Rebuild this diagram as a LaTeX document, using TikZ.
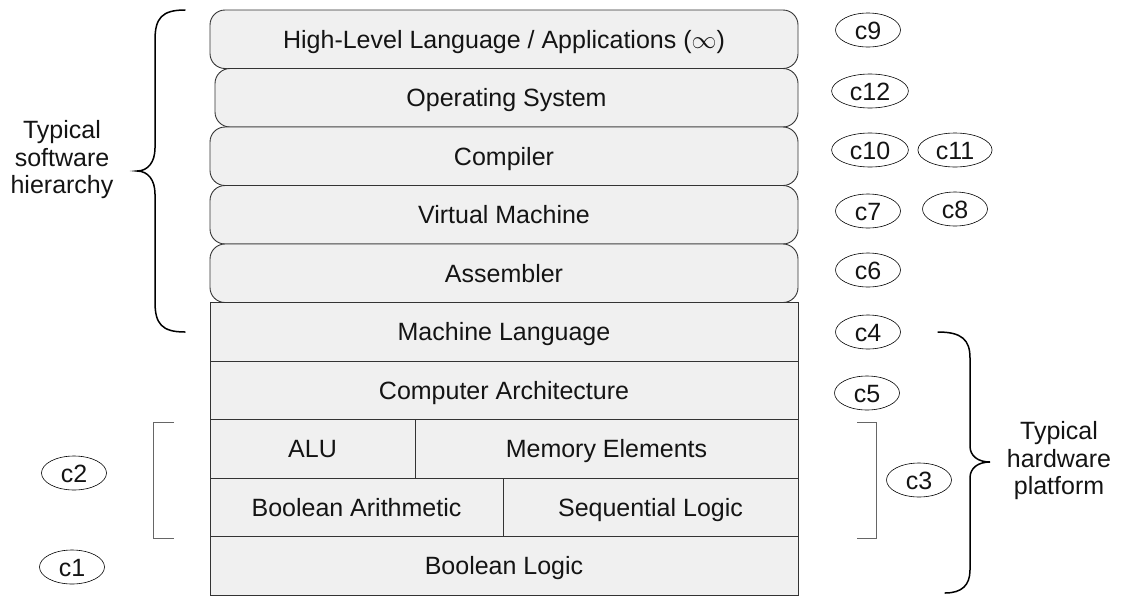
\documentclass[tikz,border=0pt]{standalone}
\usepackage{fontspec}
\setmainfont{Liberation Sans}
\usepackage{tikz}
\usetikzlibrary{shapes.geometric}

\begin{document}
\begin{tikzpicture}[x=1pt, y=-1pt,
		every node/.style={font=\fontsize{25}{27.5}\selectfont, text=black!92},
		layer/.style={draw=black!80, fill=black!6, line width=.9pt, inner sep=0pt, outer sep=0pt,
			minimum height=58.5pt, text height=18pt, text depth=0pt},
		soft/.style={layer, rounded corners=15pt},
		chap/.style={draw=black, ellipse, line width=.6pt, inner xsep=7pt, inner ysep=0pt,
			minimum width=65pt, minimum height=34pt, text height=18pt, text depth=0pt},
		curly/.style={line width=1.5pt, line cap=round},
		bracket/.style={draw=black!60, line width=1pt}]
	\useasboundingbox (0,0) rectangle (1122,595);
	\node[soft, minimum width=588pt] (hll) at (504,39.25) {High-Level Language / Applications ($\infty$)};
	\node[soft, minimum width=583pt] (os) at (506.5,97.75) {Operating System};
	\node[soft, minimum width=588pt] (comp) at (504,156.25) {Compiler};
	\node[soft, minimum width=588pt] (vm) at (504,214.75) {Virtual Machine};
	\node[soft, minimum width=588pt] (asm) at (504,273.25) {Assembler};
	\node[layer, minimum width=588pt] (ml) at (504,331.75) {Machine Language};
	\node[layer, minimum width=588pt] (arch) at (504,390.25) {Computer Architecture};
	\node[layer, minimum width=205pt] (alu) at (312.5,448.75) {ALU};
	\node[layer, minimum width=383pt] (mem) at (606.5,448.75) {Memory Elements};
	\node[layer, minimum width=293pt] (arith) at (356.5,507.25) {Boolean Arithmetic};
	\node[layer, minimum width=295pt] (seq) at (650.5,507.25) {Sequential Logic};
	\node[layer, minimum width=588pt] (logic) at (504,565.75) {Boolean Logic};

	\node[chap] (c9) at (868,30) {c9};
	\node[chap] (c12) at (870,91) {c12};
	\node[chap] (c10) at (870,150) {c10};
	\node[chap] (c11) at (955,150) {c11};
	\node[chap] (c7) at (868,211) {c7};
	\node[chap] (c8) at (955,209) {c8};
	\node[chap] (c6) at (868,270) {c6};
	\node[chap] (c4) at (868,332) {c4};
	\node[chap] (c5) at (867,393) {c5};
	\node[chap] (c3) at (919,480) {c3};
	\node[chap] (c2) at (74,473) {c2};
	\node[chap] (c1) at (72,567) {c1};

	\draw[curly] (185,10) .. controls (162,10) and (155,18) .. (155,40) -- (155,148)
		.. controls (155,162) and (148,171) .. (137,171) .. controls (148,171) and (155,180) .. (155,194)
		-- (155,302) .. controls (155,324) and (162,332) .. (185,332);
	\node[align=center] (sw) at (62,160) {Typical\\software\\hierarchy};

	\draw[curly] (938,332) .. controls (962,332) and (970,340) .. (970,358) -- (970,446)
		.. controls (970,456) and (978,462) .. (990,462) .. controls (978,462) and (970,468) .. (970,478)
		-- (970,570) .. controls (970,585) and (962,593) .. (945,593);
	\node[align=center] (hw) at (1059,461) {Typical\\hardware\\platform};

	\draw[bracket] (174,422) -- (153,422) -- (153,538) -- (174,538);
	\draw[bracket] (857,422) -- (876,422) -- (876,538) -- (857,538);
\end{tikzpicture}
\end{document}
